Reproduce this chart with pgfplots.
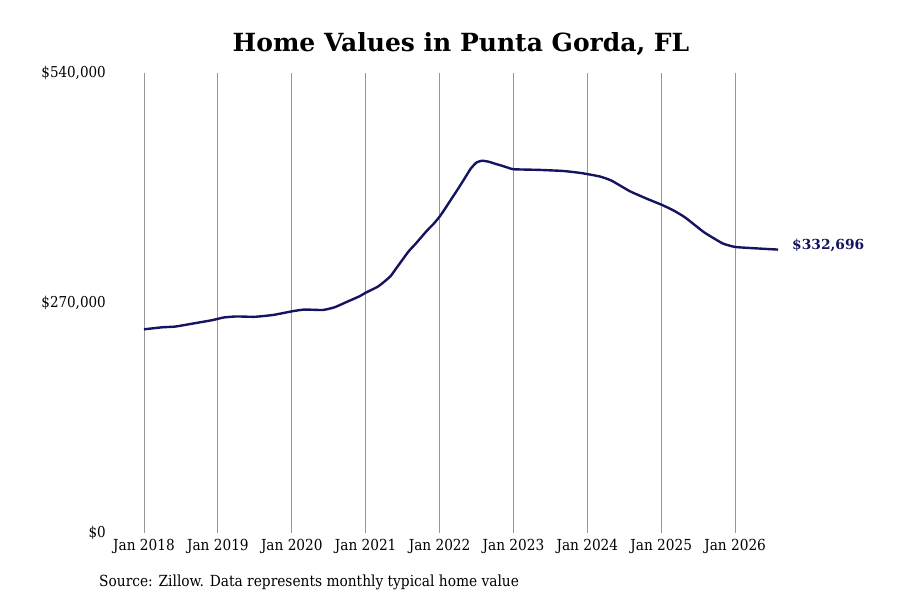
\documentclass[border=0pt]{standalone}
\usepackage{fontspec}
\setmainfont{DejaVu Serif Condensed}
\newfontfamily\titlefont{DejaVu Serif}
\usepackage{pgfplots}
\pgfplotsset{compat=1.18}
\definecolor{navyline}{RGB}{20,20,96}
\definecolor{gridgray}{RGB}{150,150,150}
\begin{document}
\begin{tikzpicture}
\path[use as bounding box] (0,0) rectangle (900bp,600bp);
\begin{axis}[
  at={(144bp,67bp)}, anchor=south west,
  scale only axis, width=634bp, height=460bp,
  xmin=2018, xmax=2026.58, ymin=0, ymax=540000,
  scaled y ticks=false, scaled x ticks=false,
  axis line style={draw=none},
  major tick length=0pt,
  xtick={2018,2019,2020,2021,2022,2023,2024,2025,2026},
  xticklabels={Jan 2018,Jan 2019,Jan 2020,Jan 2021,Jan 2022,Jan 2023,Jan 2024,Jan 2025,Jan 2026},
  ytick={0,270000,540000},
  yticklabels={{\$0\hspace{14bp}},{\$270,000},{\$540,000}},
  xmajorgrids,
  grid style={draw=gridgray, line width=0.8bp},
  xticklabel style={anchor=north, inner sep=0pt, yshift=-6bp, font=\fontsize{15.2bp}{17bp}\selectfont},
  yticklabel style={anchor=east, inner sep=0pt, xshift=-38bp, font=\fontsize{15bp}{17bp}\selectfont},
  clip=false,
]
\addplot[navyline, line width=2.4bp, smooth, tension=0.3] coordinates {
(2018.00,239100)
(2018.25,241500)
(2018.42,242300)
(2018.67,246000)
(2018.92,249800)
(2019.08,253000)
(2019.25,254200)
(2019.50,253800)
(2019.75,256000)
(2020.00,260200)
(2020.17,262300)
(2020.42,261800)
(2020.58,265000)
(2020.75,271500)
(2020.92,278000)
(2021.00,282100)
(2021.17,289500)
(2021.33,300900)
(2021.42,311500)
(2021.50,321000)
(2021.58,330500)
(2021.67,339000)
(2021.75,347000)
(2021.83,355000)
(2021.92,363000)
(2022.00,371300)
(2022.08,381500)
(2022.17,393500)
(2022.25,404000)
(2022.33,415000)
(2022.42,427500)
(2022.50,435000)
(2022.58,437000)
(2022.67,435700)
(2022.75,433500)
(2022.83,431500)
(2022.92,429000)
(2023.00,427000)
(2023.33,426300)
(2023.67,425000)
(2023.92,422500)
(2024.17,418500)
(2024.33,413500)
(2024.58,401000)
(2024.83,391500)
(2025.00,385500)
(2025.17,378500)
(2025.33,370000)
(2025.58,353000)
(2025.83,340000)
(2026.00,335800)
(2026.25,334300)
(2026.58,332696)
};
\node[anchor=west, inner sep=0pt, xshift=14bp, yshift=4bp, text=navyline, font=\titlefont\bfseries\fontsize{13.8bp}{16bp}\selectfont] at (axis cs:2026.58,332696) {\$332,696};
\end{axis}
\node[font=\titlefont\bfseries\fontsize{25bp}{29bp}\selectfont] at (461bp,556bp) {Home Values in Punta Gorda, FL};
\node[anchor=west, inner sep=0pt, font=\fontsize{15.3bp}{18bp}\selectfont] at (99bp,18bp) {Source: Zillow. Data represents monthly typical home value};
\end{tikzpicture}
\end{document}
